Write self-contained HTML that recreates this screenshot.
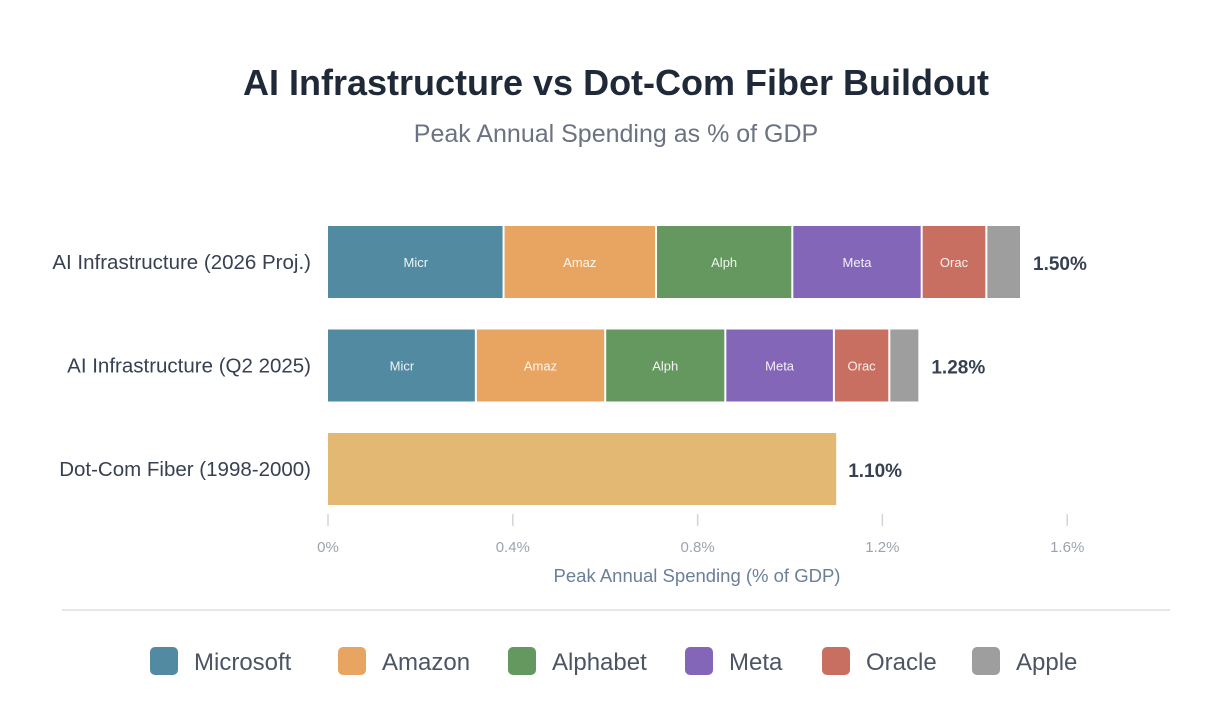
<!DOCTYPE html>
<html><head><meta charset="utf-8"><style>
body{margin:0;background:#fff;width:1223px;height:720px;overflow:hidden;font-family:"Liberation Sans",sans-serif}
</style></head><body>
<svg width="1223" height="720" id="c">
<text x="616" y="95" text-anchor="middle" font-size="36" font-weight="bold" fill="#1f2937">AI Infrastructure vs Dot-Com Fiber Buildout</text>
<text x="616" y="142" text-anchor="middle" font-size="25" fill="#6b7280">Peak Annual Spending as % of GDP</text>
<text x="697" y="582" text-anchor="middle" font-size="18.5" fill="#6b7f99">Peak Annual Spending (% of GDP)</text>
<line x1="62" x2="1170" y1="610" y2="610" stroke="#e5e7eb" stroke-width="2"/>
<g id="bars"></g><g id="axis"></g><g id="legend"></g>
</svg>
<script>
const categories=["AI Infrastructure (2026 Proj.)","AI Infrastructure (Q2 2025)","Dot-Com Fiber (1998-2000)"];
const companies=["Microsoft","Amazon","Alphabet","Meta","Oracle","Apple"];
const proj2026=[0.38,0.33,0.295,0.28,0.14,0.075];
const q22025=[0.32,0.28,0.26,0.235,0.12,0.065];
const dotcom=[1.10];
const totals=["1.50%","1.28%","1.10%"];
const ticks=[0,0.4,0.8,1.2,1.6];
const tickLabels=["0%","0.4%","0.8%","1.2%","1.6%"];
const colors=["#528aa2","#e8a461","#64985f","#8466b8","#c96f62","#9e9e9e"];
const NS="http://www.w3.org/2000/svg";
const x=v=>328+v*462, rowY=i=>226+i*103.5, bh=72;
function mk(t,a,p){const e=document.createElementNS(NS,t);for(const k in a)e.setAttribute(k,a[k]);p.appendChild(e);return e;}
const bars=document.getElementById('bars'),axis=document.getElementById('axis'),leg=document.getElementById('legend');
[proj2026,q22025].forEach((series,i)=>{let acc=0;series.forEach((v,j)=>{
 const r=mk('rect',{x:x(acc)+(j?1:0),y:rowY(i),width:x(acc+v)-x(acc)-(j?2:1),height:bh,fill:colors[j]},bars);
 
 
 if(j<5){const t=mk('text',{x:(x(acc)+x(acc+v))/2,y:rowY(i)+bh/2+5,'text-anchor':'middle','font-size':13,fill:'#fff','fill-opacity':0.9},bars);t.textContent=companies[j].slice(0,4);
 }
 acc+=v;});});
const d=mk('rect',{x:x(0),y:rowY(2),width:x(dotcom[0])-x(0),height:bh,fill:"#e2b873"},bars);


const sums=[proj2026.reduce((a,b)=>a+b),q22025.reduce((a,b)=>a+b),dotcom[0]];
categories.forEach((c,i)=>{
 const l=mk('text',{x:311,y:rowY(i)+bh/2+7,'text-anchor':'end','font-size':20.5,fill:'#374151'},axis);l.textContent=c;
 
 const v=mk('text',{x:x(sums[i])+12,y:rowY(i)+bh/2+8,'font-size':19,'font-weight':'bold',fill:'#374151'},axis);v.textContent=totals[i];
 });
ticks.forEach((t,i)=>{
 const ln=mk('line',{x1:x(t),x2:x(t),y1:514,y2:526,stroke:'#d1d5db','stroke-width':1.5},axis);
 
 const tx=mk('text',{x:x(t),y:552,'text-anchor':'middle','font-size':15,fill:'#9ca3af'},axis);tx.textContent=tickLabels[i];
 });
const lx=[150,338,508,685,822,972];
companies.forEach((c,i)=>{
 const g=mk('g',{},leg);
 
 
 mk('rect',{x:lx[i],y:647,width:28,height:28,rx:5,fill:colors[i]},g);
 const t=mk('text',{x:lx[i]+44,y:670,'font-size':24,fill:'#4b5563'},g);t.textContent=c;});
</script>
</body></html>
